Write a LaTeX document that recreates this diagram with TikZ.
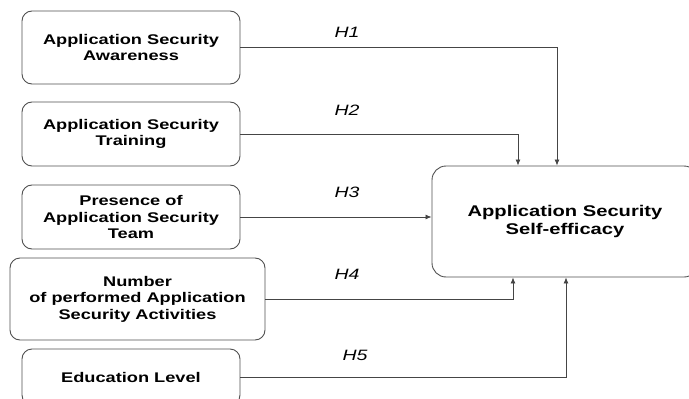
\documentclass[tikz,border=0pt]{standalone}
\usepackage{xcolor}
\usepackage{fontspec}
\setmainfont[FakeStretch=1.3]{Liberation Sans}
\usepackage{tikz}
\usetikzlibrary{positioning, arrows.meta, calc}
\definecolor{boxborder}{HTML}{505050}
\definecolor{linegray}{HTML}{454545}

\begin{document}
\begin{tikzpicture}[x=1pt, y=1pt,
    factor/.style={draw=boxborder, line width=0.9pt, rounded corners=10pt, align=center,
      font=\fontsize{14}{16.5}\selectfont\bfseries, minimum width=218pt, inner sep=0pt},
    outcome/.style={factor, font=\fontsize{15.5}{18}\selectfont\bfseries, rounded corners=14pt},
    hyp/.style={font=\fontsize{15}{18}\selectfont\itshape, inner sep=0pt},
    link/.style={draw=linegray, line width=0.8pt, -{Latex[length=6pt,width=5pt]}}]
    \clip (0,0) rectangle (689,-399);
    % predictors
    \node[factor, minimum height=73pt] (aware) at (131,-47.5) {Application Security\\Awareness};
    \node[factor, minimum height=64pt] (train) at (131,-134) {Application Security\\Training};
    \node[factor, minimum height=64pt] (team) at (131,-217) {Presence of\\Application Security\\Team};
    \node[factor, minimum height=82pt, minimum width=255pt] (acts) at (137.5,-299)
      {Number\\of performed Application\\Security Activities};
    \node[factor, minimum height=56pt] (edu) at (131,-377) {Education Level};
    % outcome
    \node[outcome, minimum width=266pt, minimum height=111pt] (eff) at (565,-221.5)
      {Application Security\\Self-efficacy};
    % hypotheses
    \draw[link] (aware.east) -| ([xshift=-8pt]eff.north);
    \draw[link] (train.east) -| ([xshift=-47pt]eff.north);
    \draw[link] (team.east) -- (team.east -| eff.west);
    \draw[link] (acts.east) -| ([xshift=-52pt]eff.south);
    \draw[link] (edu.east) -| ([xshift=1pt]eff.south);
    \node[hyp] (h1) at (347,-32) {H1};
    \node[hyp] (h2) at (347,-110) {H2};
    \node[hyp] (h3) at (347,-192) {H3};
    \node[hyp] (h4) at (347,-274) {H4};
    \node[hyp] (h5) at (355,-355) {H5};
\end{tikzpicture}
\end{document}
